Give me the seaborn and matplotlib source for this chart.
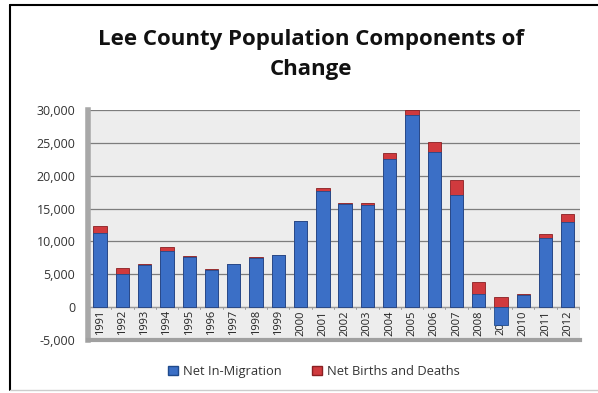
import matplotlib
matplotlib.use("Agg")
import matplotlib.pyplot as plt
import seaborn as sns
import numpy as np
import pandas as pd
from matplotlib.patches import Patch
from matplotlib.lines import Line2D

years = ["1991", "1992", "1993", "1994", "1995", "1996", "1997", "1998",
         "1999", "2000", "2001", "2002", "2003", "2004", "2005", "2006",
         "2007", "2008", "2009", "2010", "2011", "2012"]
net_migration = [11300, 5100, 6400, 8500, 7700, 5700, 6500, 7500,
                 8000, 13100, 17600, 15700, 15600, 22600, 29200, 23600,
                 17000, 2000, -2700, 1800, 10500, 12900]
net_births_deaths = [1000, 800, 100, 600, 100, 100, 100, 100,
                     0, 0, 500, 100, 200, 800, 800, 1500,
                     2300, 1800, 1500, 200, 700, 1300]
y_ticks = [-5000, 0, 5000, 10000, 15000, 20000, 25000, 30000]

df = pd.DataFrame({"year": years,
                   "migration": net_migration,
                   "natural": net_births_deaths})
# Natural change is stacked on top of positive migration, or from zero
# when migration is negative.
df["stack_top"] = np.where(df["migration"] >= 0,
                           df["migration"] + df["natural"], df["natural"])

blue = "#3b6fc6"
red = "#d03a3e"

sns.set_style("white")
plt.rcParams["font.family"] = ["Open Sans", "DejaVu Sans"]

fig = plt.figure(figsize=(5.98, 3.93), dpi=100)
ax = fig.add_axes([0.147, 0.135, 0.823, 0.585])
ax.set_facecolor("#ededed")

sns.barplot(data=df, x="year", y="stack_top", color=red, saturation=1,
            width=0.6, edgecolor="#8a1f22", linewidth=0.6, ax=ax, zorder=3)
sns.barplot(data=df, x="year", y="migration", color=blue, saturation=1,
            width=0.6, edgecolor="#1f4a8c", linewidth=0.6, ax=ax, zorder=4)

ax.set_ylim(-5000, 30000)
ax.set_xlim(-0.55, len(years) - 0.45)
ax.set_yticks(y_ticks)
ax.set_yticklabels([f"{v:,}" for v in y_ticks], fontsize=9, color="#333333")
ax.tick_params(axis="y", length=4, color="#888888", pad=5)
ax.set_xticks([])
ax.set_xlabel("")
ax.set_ylabel("")
ax.yaxis.grid(True, color="#7d7d7d", linewidth=0.9, zorder=0)
ax.set_axisbelow(True)

# Category axis at zero with small ticks between the years
ax.axhline(0, color="#9a9a9a", linewidth=0.8, zorder=2)
for i in range(len(years) + 1):
    ax.plot([i - 0.5, i - 0.5], [0, -350], color="#9a9a9a", linewidth=0.7,
            zorder=2)
for i, yr in enumerate(years):
    ax.text(i, -450, yr, rotation=90, ha="center", va="top",
            fontsize=8, color="#222222", zorder=2.5)

for side in ["top", "right"]:
    ax.spines[side].set_visible(False)
ax.spines["left"].set_color("#a8a8a8")
ax.spines["left"].set_linewidth(4)
ax.spines["bottom"].set_color("#a0a0a0")
ax.spines["bottom"].set_linewidth(3)

fig.text(0.52, 0.862, "Lee County Population Components of\nChange",
         ha="center", va="center", fontsize=16, fontweight="bold",
         linespacing=1.55, color="#111111")

handles = [Patch(facecolor=blue, edgecolor="#1f4a8c", label="Net In-Migration"),
           Patch(facecolor=red, edgecolor="#8a1f22", label="Net Births and Deaths")]
fig.legend(handles=handles, loc="center", bbox_to_anchor=(0.525, 0.055),
           ncol=2, frameon=False, fontsize=9.3, handlelength=0.75,
           handleheight=0.75, columnspacing=2.4, handletextpad=0.4,
           labelcolor="#333333")

# Frame: dark top and left edges, faint bottom edge
fig.add_artist(Line2D([0.017, 1.0], [0.987, 0.987], transform=fig.transFigure,
                      color="black", linewidth=1.5))
fig.add_artist(Line2D([0.017, 0.017], [0.008, 0.987], transform=fig.transFigure,
                      color="black", linewidth=1.5))
fig.add_artist(Line2D([0.017, 1.0], [0.008, 0.008], transform=fig.transFigure,
                      color="#cccccc", linewidth=1.0))

fig.savefig("out.png", dpi=100, facecolor="white")
